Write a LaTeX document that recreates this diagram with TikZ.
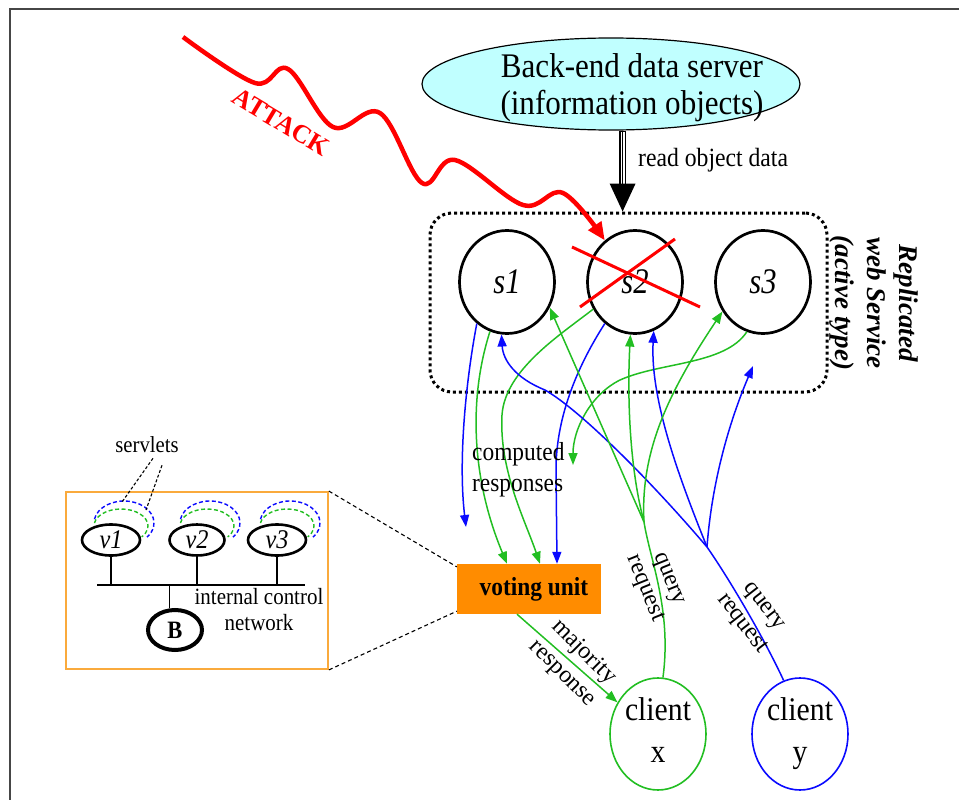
\documentclass[tikz,border=0pt]{standalone}
\usepackage{graphicx}
\usepackage{fontspec}
\setmainfont{Liberation Serif}
\usetikzlibrary{arrows.meta,shapes.geometric,calc}

\definecolor{cyanfill}{RGB}{192,255,255}
\definecolor{grn}{RGB}{34,190,34}
\definecolor{blu}{RGB}{10,10,255}
\definecolor{rd}{RGB}{255,0,0}
\definecolor{vorange}{RGB}{255,140,0}
\definecolor{iorange}{RGB}{250,170,60}
\definecolor{framegray}{RGB}{70,70,70}

\newcommand\fsz[2]{\fontsize{#1}{#2}\selectfont}
% narrow, tall lettering
\newcommand\sq[1]{\scalebox{0.9}[1]{#1}}
\newcommand\sqq[1]{\scalebox{0.85}[1]{#1}}

\begin{document}
\begin{tikzpicture}[x=1pt,y=-1pt,
  srv/.style={ellipse, draw, line width=2.7pt, minimum width=95pt, minimum height=103pt, inner sep=0pt, font=\fsz{36}{40}\itshape},
  vell/.style={ellipse, draw, line width=2.6pt, minimum height=31pt, inner sep=0pt, font=\fsz{27}{30}\itshape},
  cli/.style={ellipse, draw, line width=1.6pt, minimum width=96pt, minimum height=112pt, inner sep=0pt, align=center, font=\fsz{33}{42}},
  lbl/.style={inner sep=0pt, font=\fsz{24}{27}},
  con/.style={line width=1.5pt},
  tip/.style={-{Triangle[length=12pt,width=9pt]}},
  gcon/.style={con, grn, tip},
  bcon/.style={con, blu, tip},
  gline/.style={con, grn},
  bline/.style={con, blu},
  zoomln/.style={line width=1.1pt, dash pattern=on 4pt off 3pt},
]
\useasboundingbox (0,0) rectangle (959,800);

% page frame
\draw[framegray, line width=2pt] (10,800) -- (10,9) -- (959,9);

% back-end data server
\node[ellipse, draw, line width=1.2pt, fill=cyanfill, minimum width=378pt, minimum height=92pt,
      inner sep=0pt] (backend) at (611,84) {};
\node[inner sep=0pt, align=center, font=\fsz{34.5}{37}] (bktxt) at (632,88)
      {\sq{Back-end data server}\\\sq{(information objects)}};

% replicated service group
\node[draw, line width=3pt, dash pattern=on 3pt off 3pt, rounded corners=22pt,
      minimum width=397pt, minimum height=179pt, inner sep=0pt] (svc) at (628.5,302.5) {};
\node[srv] (s1) at (507,282) {\sqq{s1}};
\node[srv] (s2) at (635,282) {\sqq{s2}};
\node[srv] (s3) at (763,282) {\raisebox{-10pt}{\sqq{s3}}};
\node[rotate=-90, align=center, inner sep=0pt, font=\fsz{27}{32}\bfseries\itshape] (rws) at (874,303)
      {Replicated\\web Service\\(active type)};

% read path from the data server
\coordinate (rtip) at (backend.-76 |- svc.north);
\coordinate (rbase) at ($(rtip)+(0,-28)$);
\draw[line width=6.5pt] (backend.-76) -- (rbase);
\draw[line width=4.1pt, white] ([yshift=-1.5pt]backend.-76) -- (rbase);
\draw[line width=1.1pt] (backend.-76) -- (rbase);
\fill ($(rbase)+(-13,0)$) -- ($(rbase)+(13,0)$) -- (rtip) -- cycle;
\node[lbl, anchor=west, font=\fsz{26.3}{29}] (rod) at (638,160) {\sq{read object data}};

% attack
\coordinate (atk) at (183,37);
\draw[rd, line width=4.5pt, line join=round, -{Triangle[length=18pt,width=15pt]}]
  plot[smooth, tension=0.6] coordinates {(atk) (255,83) (288,69) (333,127) (380,113) (422,183) (455,160) (523,205) (563,193) (s2.126)};
\node[rotate=-31, text=rd, inner sep=0pt, font=\fsz{26}{30}\bfseries] (atklbl) at (281,122) {ATTACK};
\draw[rd, line width=3pt] ([shift={(-63,-35)}]s2.center) -- ([shift={(65,25)}]s2.center);
\draw[rd, line width=3pt] ([shift={(-55,25)}]s2.center) -- ([shift={(40,-43)}]s2.center);

% voting unit and clients
\node[fill=vorange, minimum width=144pt, minimum height=50pt, inner sep=0pt,
      font=\fsz{26}{29}\bfseries] (vote) at (529,589) {\hspace*{10pt}\sq{voting unit}};
\node[cli, draw=grn] (cx) at (658,734) {\sq{client}\\\sq{x\vphantom{y}}};
\node[cli, draw=blu] (cy) at (800,734) {\sq{client}\\\sq{y}};

% free ends and branch points
\coordinate (bend1) at (466,527);
\coordinate (gend) at (573,465);
\coordinate (bend2) at (753,366);
\coordinate (bfork) at (707,547);
\coordinate (gfork) at (644,522);

% computed responses
\draw[bcon] (s1.234) .. controls (466,380) and (458,460) .. (bend1);
\draw[gcon] (s1.251) .. controls (468,400) and (472,480) .. ([xshift=-22pt]vote.north);
\draw[gcon] (s2.213) .. controls (560,335) and (505,370) .. (502,415)
                     .. controls (499,470) and (525,520) .. ([xshift=11pt]vote.north);
\draw[bcon] (s2.234) .. controls (575,370) and (556,420) .. (556,470) -- ([xshift=28pt]vote.north);
\draw[gcon] (s3.252) .. controls (725,365) and (660,362) .. (620,380)
                     .. controls (590,395) and (573,430) .. (gend);
\node[lbl, anchor=west, align=left, font=\fsz{26}{31}] (cr) at (472,470) {\sq{computed}\\\sq{responses}};

% query requests of client y
\draw[bline] (cy.107) .. controls (765,640) and (730,580) .. (bfork);
\draw[bcon] (bfork) .. controls (650,480) and (580,410) .. (545,390)
                    .. controls (515,378) and (503,360) .. (s1.264);
\draw[bcon] (bfork) .. controls (680,480) and (650,400) .. (s2.291);
\draw[bcon] (bfork) .. controls (712,480) and (730,420) .. (bend2);

% query requests of client x
\draw[gline] (cx.85) .. controls (672,610) and (650,560) .. (gfork);
\draw[gcon] (gfork) -- (s1.329);
\draw[gcon] (gfork) .. controls (630,470) and (627,400) .. (s2.265);
\draw[gcon] (gfork) .. controls (640,450) and (670,390) .. (s3.216);

\node[lbl, rotate=-68, align=center, font=\fsz{24}{26}] (q1) at (656,584) {query\\request};
\node[lbl, rotate=-52, align=center, font=\fsz{24}{28}] (q2) at (752,616) {query\\request};

% majority response
\draw[gcon] ([xshift=-12pt]vote.south) -- (cx.142);
\node[lbl, rotate=-45, align=center, font=\fsz{24}{30}] (maj) at (573,663) {majority\\response};

% internals of the voting unit
\node[draw=iorange, line width=1.8pt, minimum width=262pt, minimum height=177pt, inner sep=0pt] (inset) at (197,580.5) {};
\draw[zoomln] (inset.north east) -- ([yshift=-3pt]vote.north west);
\draw[zoomln] (inset.south east) -- ([yshift=3pt]vote.south west);

\node[vell, minimum width=58pt] (v1) at (111,540) {\sq{v1}};
\node[vell, minimum width=55pt] (v2) at (197,540) {\sq{v2}};
\node[vell, minimum width=58pt] (v3) at (277,540) {\sq{v3}};
\node[ellipse, draw, line width=4pt, minimum width=54pt, minimum height=40pt, inner sep=0pt,
      font=\fsz{25}{28}\bfseries] (B) at (175,630) {\sq{B}};

\coordinate (busL) at (97,585);
\coordinate (busR) at (305,585);
\draw[line width=1.3pt] (busL) -- (busR);
\foreach \v in {v1,v2,v3} {
  \draw[line width=1.3pt] (\v.south) -- (\v.south |- busL);
  \draw[blu, line width=1.4pt, dash pattern=on 4pt off 2.5pt]
    (\v.center) ++(13,-17) ++(190:30 and 22) arc[start angle=190, end angle=400, x radius=30, y radius=22];
  \draw[grn, line width=1.4pt, dash pattern=on 4pt off 2.5pt]
    (\v.center) ++(10,-14) ++(190:27 and 17) arc[start angle=190, end angle=400, x radius=27, y radius=17];
}
\draw[line width=1.3pt] (B.105) -- (B.105 |- busL);

\node[inner sep=0pt, align=center, font=\fsz{23.3}{26}] (icn) at (259,610) {\sq{internal control}\\\sq{network}};
\node[inner sep=0pt, font=\fsz{23}{26}] (servlets) at (147,445) {\sq{servlets}};
\coordinate (sa) at (122,502);
\coordinate (sb) at (146,510);
\draw[line width=1.1pt, dash pattern=on 3pt off 2pt] ([shift={(6,5)}]servlets.south) -- (sa);
\draw[line width=1.1pt, dash pattern=on 3pt off 2pt] ([shift={(15,12)}]servlets.south) -- (sb);
\end{tikzpicture}
\end{document}
